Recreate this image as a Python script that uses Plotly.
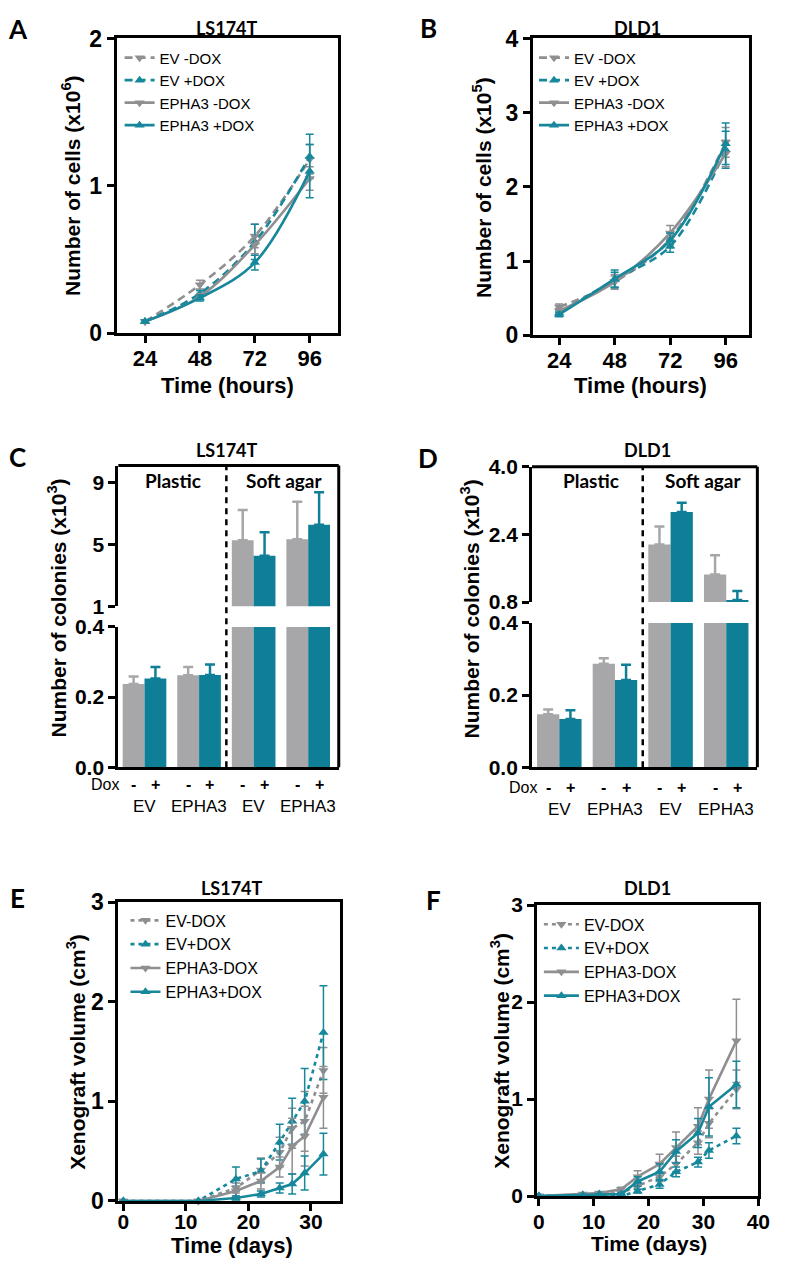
import plotly.graph_objects as go

W, H = 787, 1273

# ---------------- Data ----------------
hours = [24, 48, 72, 96]
A_ev_minus = [0.08, 0.33, 0.66, 1.18]
A_ev_minus_err = [0.01, 0.03, 0.08, 0.10]
A_ev_plus = [0.08, 0.27, 0.62, 1.20]
A_ev_plus_err = [0.01, 0.02, 0.12, 0.15]
A_epha3_minus = [0.08, 0.25, 0.60, 1.05]
A_epha3_minus_err = [0.01, 0.02, 0.06, 0.08]
A_epha3_plus = [0.08, 0.24, 0.48, 1.10]
A_epha3_plus_err = [0.01, 0.02, 0.05, 0.18]

B_ev_minus = [0.38, 0.72, 1.30, 2.60]
B_ev_minus_err = [0.04, 0.08, 0.08, 0.20]
B_ev_plus = [0.30, 0.75, 1.20, 2.50]
B_ev_plus_err = [0.03, 0.10, 0.08, 0.25]
B_epha3_minus = [0.33, 0.72, 1.38, 2.45]
B_epha3_minus_err = [0.03, 0.10, 0.10, 0.18]
B_epha3_plus = [0.28, 0.76, 1.28, 2.58]
B_epha3_plus_err = [0.03, 0.12, 0.10, 0.28]

groups = ["EV", "EPHA3", "EV", "EPHA3"]
group_pos = [0, 1, 2, 3]
C_minus = [0.237, 0.262, 5.26, 5.32]
C_minus_err = [0.022, 0.024, 1.95, 2.42]
C_plus = [0.253, 0.263, 4.26, 6.26]
C_plus_err = [0.033, 0.030, 1.52, 2.09]

D_minus = [0.147, 0.287, 2.16, 1.45]
D_minus_err = [0.013, 0.015, 0.43, 0.46]
D_plus = [0.134, 0.242, 2.93, 0.85]
D_plus_err = [0.024, 0.042, 0.22, 0.21]

E_days = [0, 12, 18, 22, 25, 27, 29, 32]
E_ev_minus = [0, 0, 0.13, 0.31, 0.49, 0.73, 0.80, 1.31]
E_ev_minus_err = [0, 0, 0.05, 0.12, 0.15, 0.20, 0.30, 0.23]
E_ev_plus = [0, 0, 0.22, 0.30, 0.59, 0.80, 1.00, 1.69]
E_ev_plus_err = [0, 0, 0.12, 0.12, 0.18, 0.23, 0.33, 0.47]
E_epha3_minus = [0, 0, 0.10, 0.20, 0.34, 0.55, 0.65, 1.04]
E_epha3_minus_err = [0, 0, 0.05, 0.08, 0.10, 0.28, 0.30, 0.31]
E_epha3_plus = [0, 0, 0.03, 0.07, 0.13, 0.17, 0.28, 0.47]
E_epha3_plus_err = [0, 0, 0.02, 0.03, 0.05, 0.10, 0.17, 0.21]

F_days = [0, 8, 11, 15, 18, 22, 25, 29, 31, 36]
F_ev_minus = [0, 0.01, 0.02, 0.03, 0.10, 0.20, 0.33, 0.55, 0.75, 1.10]
F_ev_minus_err = [0, 0, 0, 0.01, 0.03, 0.05, 0.08, 0.12, 0.15, 0.20]
F_ev_plus = [0, 0.01, 0.01, 0.00, 0.05, 0.12, 0.25, 0.35, 0.47, 0.62]
F_ev_plus_err = [0, 0, 0, 0.01, 0.02, 0.04, 0.05, 0.05, 0.08, 0.08]
F_epha3_minus = [0, 0.02, 0.03, 0.07, 0.20, 0.33, 0.50, 0.72, 1.00, 1.60]
F_epha3_minus_err = [0, 0, 0, 0.02, 0.06, 0.10, 0.16, 0.19, 0.30, 0.43]
F_epha3_plus = [0, 0.01, 0.02, 0.02, 0.15, 0.25, 0.46, 0.65, 0.92, 1.15]
F_epha3_plus_err = [0, 0, 0, 0.01, 0.05, 0.08, 0.12, 0.15, 0.30, 0.24]

# ---------------- Style ----------------
GRAY = "#8f8f92"
TEAL = "#17889b"
BAR_GRAY = "#a7a7aa"
BAR_TEAL = "#0f7f98"
NARROW = "Liberation Sans Narrow, Liberation Sans, Arial"
SANS = "Liberation Sans, Arial"
CAL = "Lato, Open Sans, sans-serif"
LW = 3


def px(p):
    return p / W


def py(p):
    return 1 - p / H


fig = go.Figure()


def line_traces(x, series, xa, ya, leg, names, dash, shape, msize=9):
    specs = [
        (series[0], series[1], GRAY, "triangle-down", dash, names[0]),
        (series[2], series[3], TEAL, "triangle-up", dash, names[1]),
        (series[4], series[5], GRAY, "triangle-down", "solid", names[2]),
        (series[6], series[7], TEAL, "triangle-up", "solid", names[3]),
    ]
    for y, e, c, sym, d, nm in specs:
        fig.add_trace(go.Scatter(
            x=x, y=y, name=nm, xaxis=xa, yaxis=ya, legend=leg,
            mode="lines+markers", cliponaxis=False,
            line=dict(color=c, width=2.6, dash=d, shape=shape),
            marker=dict(symbol=sym, size=msize, color=c),
            error_y=dict(type="data", array=e, color=c, thickness=1.5, width=4),
        ))


line_traces(hours, [A_ev_minus, A_ev_minus_err, A_ev_plus, A_ev_plus_err,
                    A_epha3_minus, A_epha3_minus_err, A_epha3_plus, A_epha3_plus_err],
            "x", "y", "legend", ["EV -DOX", "EV +DOX", "EPHA3 -DOX", "EPHA3 +DOX"],
            "8px,5px", "spline")
line_traces(hours, [B_ev_minus, B_ev_minus_err, B_ev_plus, B_ev_plus_err,
                    B_epha3_minus, B_epha3_minus_err, B_epha3_plus, B_epha3_plus_err],
            "x2", "y2", "legend2", ["EV -DOX", "EV +DOX", "EPHA3 -DOX", "EPHA3 +DOX"],
            "8px,5px", "spline")
line_traces(E_days, [E_ev_minus, E_ev_minus_err, E_ev_plus, E_ev_plus_err,
                     E_epha3_minus, E_epha3_minus_err, E_epha3_plus, E_epha3_plus_err],
            "x5", "y7", "legend3", ["EV-DOX", "EV+DOX", "EPHA3-DOX", "EPHA3+DOX"],
            "4px,4px", "linear")
line_traces(F_days, [F_ev_minus, F_ev_minus_err, F_ev_plus, F_ev_plus_err,
                     F_epha3_minus, F_epha3_minus_err, F_epha3_plus, F_epha3_plus_err],
            "x6", "y8", "legend4", ["EV-DOX", "EV+DOX", "EPHA3-DOX", "EPHA3+DOX"],
            "4px,4px", "linear")


def bar_pair(minus, minus_err, plus, plus_err, xa, ya):
    fig.add_trace(go.Bar(x=group_pos, y=minus, xaxis=xa, yaxis=ya, showlegend=False,
                         marker=dict(color=BAR_GRAY, line=dict(width=0)),
                         error_y=dict(type="data", array=minus_err, arrayminus=[0] * 4,
                                      symmetric=False, color=BAR_GRAY, thickness=2.5, width=5)))
    fig.add_trace(go.Bar(x=group_pos, y=plus, xaxis=xa, yaxis=ya, showlegend=False,
                         marker=dict(color=BAR_TEAL, line=dict(width=0)),
                         error_y=dict(type="data", array=plus_err, arrayminus=[0] * 4,
                                      symmetric=False, color=BAR_TEAL, thickness=2.5, width=5)))


bar_pair(C_minus, C_minus_err, C_plus, C_plus_err, "x3", "y3")
bar_pair(C_minus, C_minus_err, C_plus, C_plus_err, "x3", "y4")
bar_pair(D_minus, D_minus_err, D_plus, D_plus_err, "x4", "y5")
bar_pair(D_minus, D_minus_err, D_plus, D_plus_err, "x4", "y6")

tickfont = dict(family=NARROW, size=23, color="black", weight="bold")
hfont = dict(family=NARROW, size=22, color="black", weight="bold")
barfont = dict(family=NARROW, size=21, color="black", weight="bold")
efont = dict(family=NARROW, size=21, color="black", weight="bold")
sansfont = dict(family=SANS, size=21, color="black", weight="bold")


def xax(dom, rng, anchor, tickvals=None, mirror=True, ticks="outside", font=tickfont, standoff=0):
    d = dict(domain=[px(dom[0]), px(dom[1])], range=rng, anchor=anchor,
             showline=True, linewidth=LW, linecolor="black", mirror=mirror,
             showgrid=False, zeroline=False, ticks=ticks, ticklen=7, tickwidth=LW,
             tickcolor="black", tickfont=font, fixedrange=True,
             ticklabelstandoff=standoff)
    if tickvals is not None:
        d["tickvals"] = tickvals
    else:
        d["showticklabels"] = False
    return d


def yax(dom, rng, anchor, tickvals, ticktext=None, mirror=True, font=tickfont):
    d = dict(domain=[py(dom[1]), py(dom[0])], range=rng, anchor=anchor,
             showline=True, linewidth=LW, linecolor="black", mirror=mirror,
             showgrid=False, zeroline=False, ticks="outside", ticklen=7, tickwidth=LW,
             tickcolor="black", tickfont=font, tickvals=tickvals, fixedrange=True)
    if ticktext is not None:
        d["ticktext"] = ticktext
    return d


fig.update_layout(
    width=W, height=H, margin=dict(l=0, r=0, t=0, b=0),
    paper_bgcolor="white", plot_bgcolor="rgba(0,0,0,0)",
    barmode="group", bargap=0.2, bargroupgap=0,
    xaxis=xax((115, 341), [11.6, 108.4], "y", hours, font=hfont, standoff=-4),
    yaxis=yax((26, 327), [0, 2], "x", [0, 1, 2]),
    xaxis2=xax((540, 760.7), [12.7, 106.2], "y2", hours, font=hfont, standoff=-4),
    yaxis2=yax((26, 329), [0, 4], "x2", [0, 1, 2, 3, 4]),
    xaxis3=xax((116.7, 341.7), [-0.48, 3.56], "y3", None, mirror=False, ticks=""),
    yaxis3=yax((626.7, 770), [0, 0.4], "x3", [0, 0.2, 0.4], ["0.0", "0.2", "0.4"],
               mirror=False, font=barfont),
    yaxis4=yax((462, 605.7), [1, 10.07], "x3", [1, 5, 9], mirror=False, font=barfont),
    xaxis4=xax((539, 769), [-0.49, 3.56], "y5", None, mirror=False, ticks=""),
    yaxis5=yax((622.7, 770), [0, 0.4], "x4", [0, 0.2, 0.4], ["0.0", "0.2", "0.4"],
               mirror=False, font=barfont),
    yaxis6=yax((463.3, 601.3), [0.8, 4.0], "x4", [0.8, 2.4, 4.0], ["0.8", "2.4", "4.0"],
               mirror=False, font=barfont),
    xaxis5=xax((116.7, 343.3), [-0.8, 34.7], "y7", [0, 10, 20, 30], font=efont, standoff=-7),
    yaxis7=yax((907.7, 1212.7), [0, 3], "x5", [0, 1, 2, 3]),
    xaxis6=xax((544.3, 770), [-0.3, 40], "y8", [0, 10, 20, 30, 40], font=sansfont, standoff=-2),
    yaxis8=yax((910.7, 1207.7), [0, 3], "x6", [0, 1, 2, 3], font=sansfont),
)

legfont = dict(family=SANS, size=15, color="black")
fig.update_layout(
    legend=dict(x=px(118), y=py(29), xanchor="left", yanchor="top", font=legfont,
                bgcolor="rgba(0,0,0,0)", itemwidth=30, tracegroupgap=0),
    legend2=dict(x=px(541), y=py(29), xanchor="left", yanchor="top", font=legfont,
                 bgcolor="rgba(0,0,0,0)", itemwidth=30, tracegroupgap=0),
    legend3=dict(x=px(124), y=py(909), xanchor="left", yanchor="top",
                 font=dict(family=SANS, size=16, color="black"),
                 bgcolor="rgba(0,0,0,0)", itemwidth=30, tracegroupgap=0),
    legend4=dict(x=px(546), y=py(913), xanchor="left", yanchor="top",
                 font=dict(family=SANS, size=16, color="black"),
                 bgcolor="rgba(0,0,0,0)", itemwidth=35, tracegroupgap=0),
)

shapes = []
# frames for broken-axis bar panels
for xa, ytop, ybot in (("x3", 462, 770), ("x4", 463.3, 770)):
    shapes.append(dict(type="line", xref=f"{xa} domain", yref="paper", x0=0, x1=1,
                       y0=py(ytop), y1=py(ytop), line=dict(color="black", width=LW)))
    shapes.append(dict(type="line", xref=f"{xa} domain", yref="paper", x0=1, x1=1,
                       y0=py(ybot), y1=py(ytop), line=dict(color="black", width=LW)))
    shapes.append(dict(type="line", xref=xa, yref="paper", x0=1.5, x1=1.5,
                       y0=py(ybot), y1=py(ytop), line=dict(color="black", width=2.5, dash="6px,5px")))
fig.update_layout(shapes=shapes)

ann = []


def text(x, y, s, size, family=NARROW, bold=True, angle=0, xref="paper", color="black"):
    ann.append(dict(x=x, y=y, xref=xref, yref="paper", text=s, showarrow=False,
                    textangle=angle, xanchor="center", yanchor="middle",
                    font=dict(family=family, size=size, color=color,
                              weight="bold" if bold else "normal")))


# panel letters
for L, xx, yy in (("A", 14, 16), ("B", 433, 15), ("C", 14, 453), ("D", 433, 454),
                  ("E", 14, 903), ("F", 438, 905)):
    text(px(xx), py(yy), L, 26, family=CAL)

# panel titles
for t, xx, yy in (("LS174T", 228, 15), ("DLD1", 647, 15), ("LS174T", 228, 446),
                  ("DLD1", 657, 446), ("LS174T", 233, 893), ("DLD1", 657, 893)):
    text(px(xx), py(yy), t, 18, family=CAL)

# y titles
text(px(69), py(176), "Number of cells (x10<sup>6</sup>)", 21, angle=-90)
text(px(488.5), py(178), "Number of cells (x10<sup>5</sup>)", 21, angle=-90)
text(px(54), py(607), "Number of colonies (x10<sup>3</sup>)", 21, angle=-90)
text(px(475.5), py(608), "Number of colonies (x10<sup>3</sup>)", 21, angle=-90)
text(px(74), py(1060), "Xenograft volume (cm<sup>3</sup>)", 21, angle=-90)
text(px(506.7), py(1059), "Xenograft volume (cm<sup>3</sup>)", 21, family=SANS, angle=-90)

# x titles
text(px(228), py(380), "Time (hours)", 22)
text(px(650), py(380), "Time (hours)", 22)
text(px(233), py(1258), "Time (days)", 22)
text(px(658), py(1256), "Time (days)", 21, family=SANS)

# Plastic / Soft agar
text(px(173), py(477), "Plastic", 19, family=CAL)
text(px(286), py(477), "Soft agar", 19, family=CAL)
text(px(599), py(477), "Plastic", 19, family=CAL)
text(px(713), py(477), "Soft agar", 19, family=CAL)

# Dox rows and group labels
for xa, dox_x, ydox, ygrp in (("x3", 103, 788, 810), ("x4", 530, 791, 813)):
    text(px(dox_x), py(ydox), "Dox", 16, bold=False)
    for g, lab in zip(group_pos, groups):
        ann.append(dict(x=g - 0.2, y=py(ydox), xref=xa, yref="paper", text="-", showarrow=False,
                        font=dict(family=SANS, size=16, color="black", weight="bold")))
        ann.append(dict(x=g + 0.2, y=py(ydox), xref=xa, yref="paper", text="+", showarrow=False,
                        font=dict(family=SANS, size=16, color="black", weight="bold")))
        ann.append(dict(x=g, y=py(ygrp), xref=xa, yref="paper", text=lab, showarrow=False,
                        font=dict(family=NARROW, size=17, color="black")))

fig.update_layout(annotations=ann)

fig.write_html(
    "out.html",
    config={"displayModeBar": False},
    post_script="document.body.style.margin='0';document.body.style.overflow='hidden';",
)
